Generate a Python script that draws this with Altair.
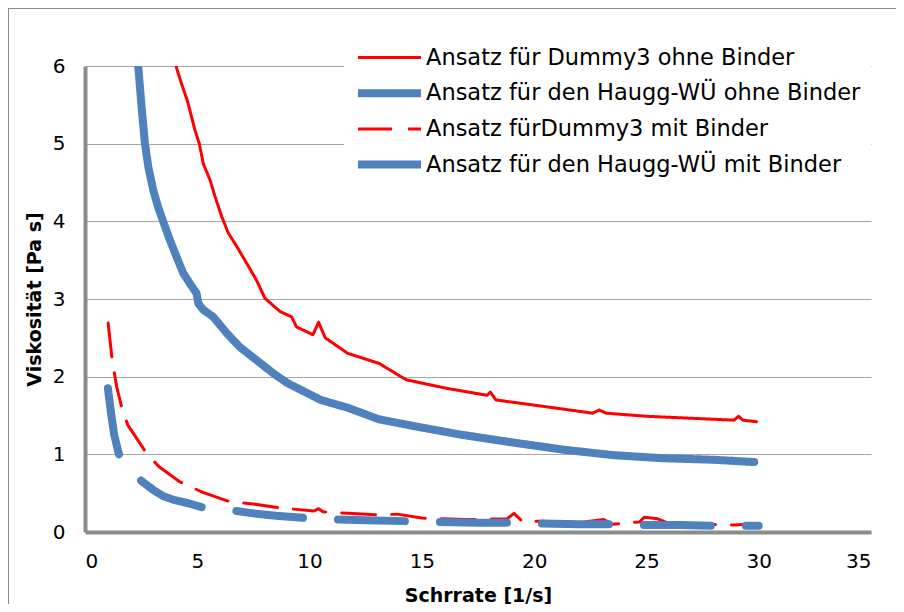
import altair as alt
import pandas as pd

# ---- data ----
series_names = [
    "Ansatz für Dummy3 ohne Binder",
    "Ansatz für den Haugg-WÜ ohne Binder",
    "Ansatz fürDummy3 mit Binder",
    "Ansatz für den Haugg-WÜ mit Binder",
]

red_ohne_x = [4.05, 4.30, 4.55, 4.67, 4.90, 5.09, 5.27, 5.57, 5.79, 6.09, 6.38, 6.75, 7.2, 7.64, 8.01,
              8.68, 9.2, 9.42, 10.15, 10.4, 10.7,
              11.7, 13.1, 14.3, 16.1, 17.9, 18.05, 18.3, 20.6, 22.6, 22.9, 23.2, 25.0, 28.9, 29.1, 29.3, 29.9]
red_ohne_y = [6.0, 5.77, 5.56, 5.43, 5.17, 5.0, 4.74, 4.53, 4.32, 4.06, 3.85, 3.68, 3.46, 3.24, 3.01,
              2.84, 2.77, 2.64, 2.54, 2.7, 2.5,
              2.3, 2.17, 1.96, 1.85, 1.76, 1.80, 1.70, 1.61, 1.53, 1.57, 1.53, 1.49, 1.44, 1.49, 1.44, 1.42]

blue_ohne_x = [2.37, 2.52, 2.67, 2.82, 3.04, 3.26, 3.49, 3.78, 4.08, 4.38, 4.67, 4.97, 5.05, 5.27, 5.71,
               6.31, 6.9, 8.4, 9.0, 10.5, 11.7, 13.1, 14.9, 16.8, 19.1, 21.3, 23.5, 25.7, 28.0, 29.8]
blue_ohne_y = [6.0, 5.47, 5.0, 4.70, 4.40, 4.18, 3.99, 3.76, 3.54, 3.33, 3.20, 3.07, 2.94, 2.86, 2.77,
               2.56, 2.38, 2.04, 1.92, 1.70, 1.60, 1.45, 1.35, 1.25, 1.15, 1.06, 0.99, 0.95, 0.93, 0.90]

red_mit_x = [1.03, 1.2, 1.41, 1.64, 1.9, 2.36, 2.75, 3.3, 4.2, 5.25, 6.45, 7.5, 8.7, 10.2, 10.4, 10.6,
             11.7, 13.1, 13.9, 15.0, 17.0, 18.8, 19.1, 19.5, 20.3, 22.0, 23.1, 23.5, 24.7, 24.9,
             25.5, 26.0, 28.9, 29.5, 30.0]
red_mit_y = [2.69, 2.24, 1.87, 1.60, 1.38, 1.18, 1.01, 0.84, 0.65, 0.51, 0.39, 0.36, 0.31, 0.27, 0.30, 0.26,
             0.24, 0.22, 0.23, 0.18, 0.16, 0.17, 0.24, 0.13, 0.14, 0.12, 0.16, 0.10, 0.13, 0.19,
             0.17, 0.11, 0.09, 0.10, 0.09]

blue_mit_x = [1.02, 1.15, 1.3, 1.5, 1.9, 2.55, 3.0, 3.5, 4.0, 4.6, 5.2, 6.0, 6.75, 7.5, 8.5, 9.8,
              11.3, 12.5, 14.25, 15.8, 17.5, 18.8, 20.3, 22.0, 23.5, 24.9, 26.5, 28.0, 30.0]
blue_mit_y = [1.85, 1.55, 1.25, 1.01, 0.80, 0.65, 0.55, 0.46, 0.41, 0.37, 0.32, 0.29, 0.27, 0.24, 0.21, 0.18,
              0.16, 0.15, 0.14, 0.13, 0.12, 0.12, 0.11, 0.10, 0.10, 0.09, 0.09, 0.08, 0.08]

colors = ["#FF0000", "#4F81BD", "#FF0000", "#4F81BD"]
widths = [3, 8, 3, 8]
dashes = [[1, 0], [1, 0], [34, 16], [67, 35]]

x_ticks = [0, 5, 10, 15, 20, 25, 30, 35]
y_ticks = [0, 1, 2, 3, 4, 5, 6]

# ---- build table ----
rows = []
for name, xs, ys in zip(series_names,
                        [red_ohne_x, blue_ohne_x, red_mit_x, blue_mit_x],
                        [red_ohne_y, blue_ohne_y, red_mit_y, blue_mit_y]):
    for i, (xv, yv) in enumerate(zip(xs, ys)):
        rows.append({"series": name, "x": xv, "y": yv, "order": i})
df = pd.DataFrame(rows)

FONT = "DejaVu Sans"

lines = alt.Chart(df).mark_line(clip=True, strokeCap="round", strokeJoin="round").encode(
    x=alt.X("x:Q", scale=alt.Scale(domain=[0, 35], nice=False),
            axis=alt.Axis(values=x_ticks, title="Schrrate [1/s]", grid=False, ticks=False,
                          labelPadding=19, titlePadding=15)),
    y=alt.Y("y:Q", scale=alt.Scale(domain=[0, 6], nice=False),
            axis=alt.Axis(values=y_ticks, title="Viskosität [Pa s]", grid=True, ticks=False,
                          labelPadding=20, titlePadding=8)),
    color=alt.Color("series:N", scale=alt.Scale(domain=series_names, range=colors),
                    title=None, sort=series_names,
                    legend=alt.Legend(orient="none", legendX=259, legendY=-31,
                                      symbolType="stroke", symbolSize=3969,
                                      labelFontSize=22.5, labelFont=FONT, labelColor="#000000",
                                      labelOffset=1, rowPadding=10.7, clipHeight=25,
                                      fillColor="white", padding=10, labelLimit=700)),
    strokeWidth=alt.StrokeWidth("series:N",
                                scale=alt.Scale(type="ordinal", domain=series_names, range=widths),
                                title=None, sort=series_names),
    strokeDash=alt.StrokeDash("series:N", scale=alt.Scale(domain=series_names, range=dashes),
                              title=None, sort=series_names),
    order="order:Q",
    detail="series:N",
)

# thin filled bars as the outer chart frame (left and top edges only)
one = pd.DataFrame({"a": [0]})
frame_left = alt.Chart(one).mark_rect(fill="#8c8c8c", strokeWidth=0).encode(
    x=alt.value(-77), x2=alt.value(-76), y=alt.value(-58), y2=alt.value(538)
)
frame_top = alt.Chart(one).mark_rect(fill="#8c8c8c", strokeWidth=0).encode(
    x=alt.value(-77), x2=alt.value(811), y=alt.value(-58), y2=alt.value(-57)
)

chart = alt.layer(frame_left, frame_top, lines).properties(
    width=786, height=466,
    padding={"left": 77, "top": 58, "right": 25, "bottom": 72},
    autosize=alt.AutoSizeParams(type="none"),
    background="white",
).configure_view(stroke=None).configure_axis(
    labelFont=FONT, labelFontSize=20, labelColor="#000000",
    titleFont=FONT, titleFontSize=19, titleFontWeight="bold", titleColor="#000000",
    domainColor="#8c8c8c", domainWidth=4, gridColor="#a6a6a6", gridWidth=1,
)

chart.save("out.html", embed_options={"renderer": "svg", "actions": False})
